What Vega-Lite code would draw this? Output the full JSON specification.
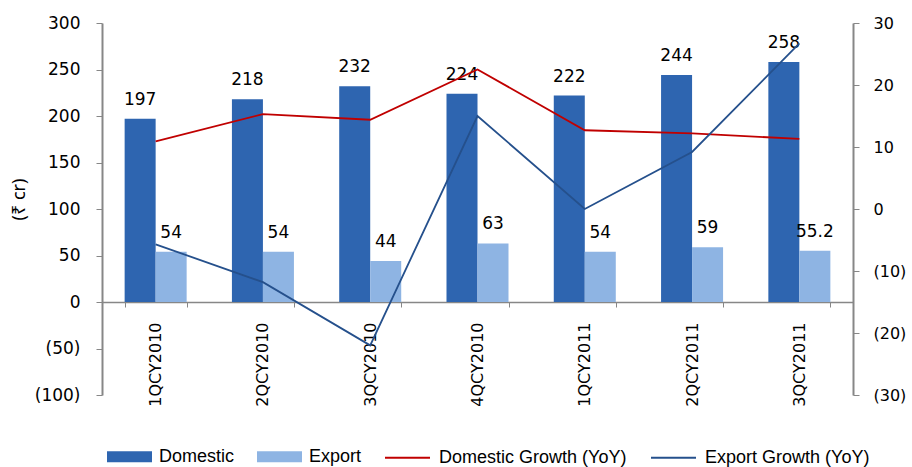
{
  "$schema": "https://vega.github.io/schema/vega-lite/v6.json",
  "width": 751,
  "height": 372,
  "autosize": {"type": "none"},
  "padding": {"left": 102, "top": 23, "right": 59, "bottom": 72},
  "background": "white",
  "config": {
    "view": {"stroke": null},
    "font": "DejaVu Sans",
    "axis": {"grid": false, "domainColor": "#878787", "tickColor": "#878787", "labelColor": "#000000", "labelFont": "DejaVu Sans"},
    "legend": {"labelFont": "Liberation Sans", "labelFontSize": 18, "labelColor": "#000000", "labelLimit": 400}
  },
  "datasets": {
    "bars": [
      {"quarter": "1QCY2010", "series": "Domestic", "value": 197},
      {"quarter": "1QCY2010", "series": "Export", "value": 54},
      {"quarter": "2QCY2010", "series": "Domestic", "value": 218},
      {"quarter": "2QCY2010", "series": "Export", "value": 54},
      {"quarter": "3QCY2010", "series": "Domestic", "value": 232},
      {"quarter": "3QCY2010", "series": "Export", "value": 44},
      {"quarter": "4QCY2010", "series": "Domestic", "value": 224},
      {"quarter": "4QCY2010", "series": "Export", "value": 63},
      {"quarter": "1QCY2011", "series": "Domestic", "value": 222},
      {"quarter": "1QCY2011", "series": "Export", "value": 54},
      {"quarter": "2QCY2011", "series": "Domestic", "value": 244},
      {"quarter": "2QCY2011", "series": "Export", "value": 59},
      {"quarter": "3QCY2011", "series": "Domestic", "value": 258},
      {"quarter": "3QCY2011", "series": "Export", "value": 55.2}
    ],
    "growth": [
      {"quarter": "1QCY2010", "series": "Domestic Growth (YoY)", "growth": 10.9},
      {"quarter": "2QCY2010", "series": "Domestic Growth (YoY)", "growth": 15.3},
      {"quarter": "3QCY2010", "series": "Domestic Growth (YoY)", "growth": 14.4},
      {"quarter": "4QCY2010", "series": "Domestic Growth (YoY)", "growth": 22.5},
      {"quarter": "1QCY2011", "series": "Domestic Growth (YoY)", "growth": 12.7},
      {"quarter": "2QCY2011", "series": "Domestic Growth (YoY)", "growth": 12.2},
      {"quarter": "3QCY2011", "series": "Domestic Growth (YoY)", "growth": 11.3},
      {"quarter": "1QCY2010", "series": "Export Growth (YoY)", "growth": -5.7},
      {"quarter": "2QCY2010", "series": "Export Growth (YoY)", "growth": -11.8},
      {"quarter": "3QCY2010", "series": "Export Growth (YoY)", "growth": -22.0},
      {"quarter": "4QCY2010", "series": "Export Growth (YoY)", "growth": 15.0},
      {"quarter": "1QCY2011", "series": "Export Growth (YoY)", "growth": 0.0},
      {"quarter": "2QCY2011", "series": "Export Growth (YoY)", "growth": 9.2},
      {"quarter": "3QCY2011", "series": "Export Growth (YoY)", "growth": 26.7}
    ]
  },
  "encoding": {
    "x": {
      "field": "quarter", "type": "nominal", "sort": null,
      "scale": {"paddingInner": 0.422, "paddingOuter": 0.211},
      "axis": {
        "title": null, "labelAngle": -90, "labelFontSize": 16, "labelPadding": 15,
        "offset": -93, "tickBand": "extent", "tickSize": 5, "domainWidth": 1.5, "labelAlign": "right", "labelBaseline": "middle"
      }
    }
  },
  "layer": [
    {
      "data": {"name": "bars"},
      "encoding": {
        "y": {
          "field": "value", "type": "quantitative",
          "scale": {"domain": [-100, 300], "nice": false, "zero": false},
          "axis": {
            "title": "(₹ cr)", "titleFont": "Noto Sans", "titleFontSize": 18, "titleFontWeight": "normal",
            "titlePadding": 6, "titleY": 176, "titleColor": "#000000",
            "values": [-100, -50, 0, 50, 100, 150, 200, 250, 300],
            "labelExpr": "datum.value < 0 ? '(' + abs(datum.value) + ')' : datum.value",
            "labelFontSize": 17, "labelPadding": 16, "tickSize": 6, "domainWidth": 2
          }
        },
        "xOffset": {"field": "series", "type": "nominal", "scale": {"paddingInner": 0, "paddingOuter": 0}}
      },
      "layer": [
        {
          "mark": {"type": "bar"},
          "encoding": {
            "fill": {
              "field": "series", "type": "nominal",
              "scale": {"domain": ["Domestic", "Export"], "range": ["#2e65b0", "#8eb4e3"]},
              "legend": {
                "title": null, "orient": "none", "legendX": 5, "legendY": 411, "direction": "horizontal",
                "symbolType": "M-1,-0.244H1V0.244H-1Z", "symbolSize": 2025, "symbolStrokeWidth": 0,
                "labelOffset": 7, "columnPadding": 22
              }
            }
          }
        },
        {
          "mark": {"type": "text", "baseline": "alphabetic", "dy": -14, "fontSize": 17, "font": "DejaVu Sans", "color": "#000000"},
          "encoding": {"text": {"field": "value", "type": "quantitative"}}
        }
      ]
    },
    {
      "data": {"name": "growth"},
      "mark": {"type": "line", "strokeWidth": 1.8},
      "encoding": {
        "y": {
          "field": "growth", "type": "quantitative",
          "scale": {"domain": [-30, 30], "nice": false, "zero": false},
          "axis": {
            "orient": "right", "title": null,
            "values": [-30, -20, -10, 0, 10, 20, 30],
            "labelExpr": "datum.value < 0 ? '(' + abs(datum.value) + ')' : datum.value",
            "labelFontSize": 16, "labelPadding": 14, "tickSize": 6, "domainWidth": 2
          }
        },
        "stroke": {
          "field": "series", "type": "nominal",
          "scale": {"domain": ["Domestic Growth (YoY)", "Export Growth (YoY)"], "range": ["#c00000", "#25508c"]},
          "legend": {
            "title": null, "orient": "none", "legendX": 282, "legendY": 411, "direction": "horizontal",
            "symbolType": "stroke", "symbolSize": 2025, "symbolStrokeWidth": 2,
            "labelOffset": 8, "columnPadding": 20
          }
        }
      }
    }
  ],
  "resolve": {"scale": {"y": "independent"}}
}
